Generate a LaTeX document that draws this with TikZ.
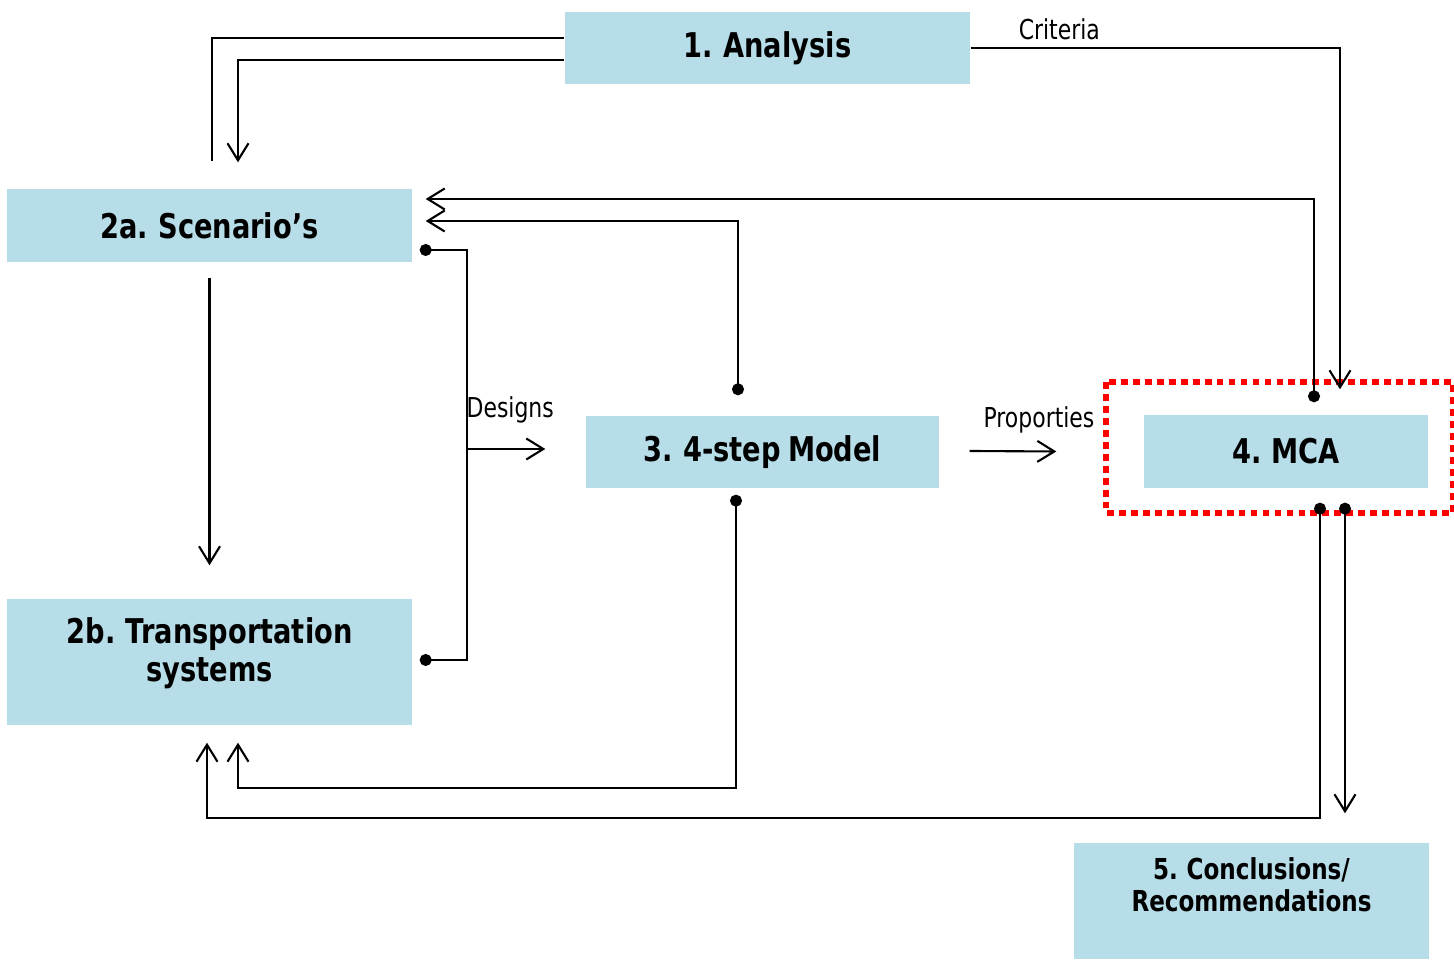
\documentclass[tikz,border=0pt]{standalone}
\usepackage{fontspec}
\setmainfont{DejaVu Sans}[FakeStretch=0.8, WordSpace=0.75]
\usetikzlibrary{arrows.meta,positioning,calc}

\begin{document}
\begin{tikzpicture}[
    box/.style={fill=boxColor, inner sep=0pt, align=center, font=\fontsize{9.7}{11}\selectfont\bfseries},
    lbl/.style={font=\fontsize{7.8}{9}\selectfont, inner sep=1pt},
    link/.style={line width=0.6pt},
    arr/.style={link, -{Straight Barb[length=1.7mm,width=2.1mm]}},
    dotarr/.style={link, {Circle[length=1.2mm]}-{Straight Barb[length=1.7mm,width=2.1mm]}},
    dotdot/.style={link, {Circle[length=1.2mm]}-{Circle[length=1.2mm]}},
    redbox/.style={draw=mcaRed, line width=1.8pt, dash pattern=on 1.9pt off 1.5pt}
]
    % Palette
    \definecolor{boxColor}{HTML}{B7DDE8}
    \definecolor{mcaRed}{HTML}{FF0000}

    \useasboundingbox (0,0) rectangle (14.54,9.67);

    % --- Boxes ---
    \node[box, minimum width=4.05cm, minimum height=0.72cm] (ana) at (7.675, 9.19) {1. Analysis};
    \node[box, minimum width=4.05cm, minimum height=0.73cm] (scen) at (2.095, 7.415) {2a. Scenario’s};
    \node[box, minimum width=4.05cm, minimum height=1.26cm, text depth=0.25cm] (trans) at (2.095, 3.05) {2b. Transportation\\ systems};
    \node[box, minimum width=3.53cm, minimum height=0.72cm] (model) at (7.625, 5.15) {3. 4-step Model};
    \node[box, minimum width=2.84cm, minimum height=0.73cm] (mca) at (12.86, 5.155) {4. MCA};
    \node[box, minimum width=3.55cm, minimum height=1.16cm, text depth=0.33cm, font=\fontsize{8.2}{9.1}\selectfont\bfseries] (concl) at (12.515, 0.66) {5. Conclusions/\\ Recommendations};

    % red dotted frame round MCA
    \draw[redbox] ([shift={(-0.37,0.32)}]mca.north west) rectangle ([shift={(0.24,-0.24)}]mca.south east);

    % --- Analysis <-> Scenario's ---
    \draw[link] ([xshift=0.025cm, yshift=0.27cm]scen.north) |- ([yshift=0.1cm]ana.west);
    \draw[arr] ([yshift=-0.12cm]ana.west) -| ([xshift=0.285cm, yshift=0.26cm]scen.north);

    % Criteria
    \draw[arr] (ana.east) -| ([xshift=0.54cm, yshift=0.25cm]mca.north)
        node[lbl, above=1pt, pos=0.12] {Criteria};

    % --- Feedback to Scenario's ---
    \draw[dotarr] ([xshift=0.28cm, yshift=0.12cm]mca.north) |- ([xshift=0.13cm, yshift=0.265cm]scen.east);
    \draw[dotarr] ([xshift=-0.245cm, yshift=0.20cm]model.north) |- ([xshift=0.13cm, yshift=0.045cm]scen.east);

    % Designs
    \draw[dotdot] ([xshift=0.07cm, yshift=-0.245cm]scen.east) -- ++(0.47,0) |- ([xshift=0.07cm, yshift=0.02cm]trans.east);
    \draw[arr] ([xshift=-1.18cm, yshift=0.03cm]model.west) -- ([xshift=-0.40cm, yshift=0.03cm]model.west)
        node[lbl, above=6pt, pos=0.55] {Designs};

    % Scenario's -> Transportation
    \draw[arr] ([yshift=-0.15cm]scen.south) -- ([yshift=0.33cm]trans.north);

    % --- Feedback to Transportation ---
    \draw[dotarr] ([xshift=-0.265cm, yshift=-0.06cm]model.south) -- ++(0,-2.93) -| ([xshift=0.285cm, yshift=-0.17cm]trans.south);
    \draw[dotarr] ([xshift=0.34cm, yshift=-0.14cm]mca.south) -- ++(0,-3.15) -| ([xshift=-0.025cm, yshift=-0.17cm]trans.south);

    % Proporties
    \draw[arr] ([xshift=0.30cm, yshift=0.01cm]model.east) -- ([xshift=-0.87cm]mca.west)
        node[lbl, above=4pt, pos=0.8] {Proporties};

    % MCA -> Conclusions
    \draw[dotarr] ([xshift=0.59cm, yshift=-0.14cm]mca.south) -- ([xshift=0.935cm, yshift=0.29cm]concl.north);

\end{tikzpicture}
\end{document}
